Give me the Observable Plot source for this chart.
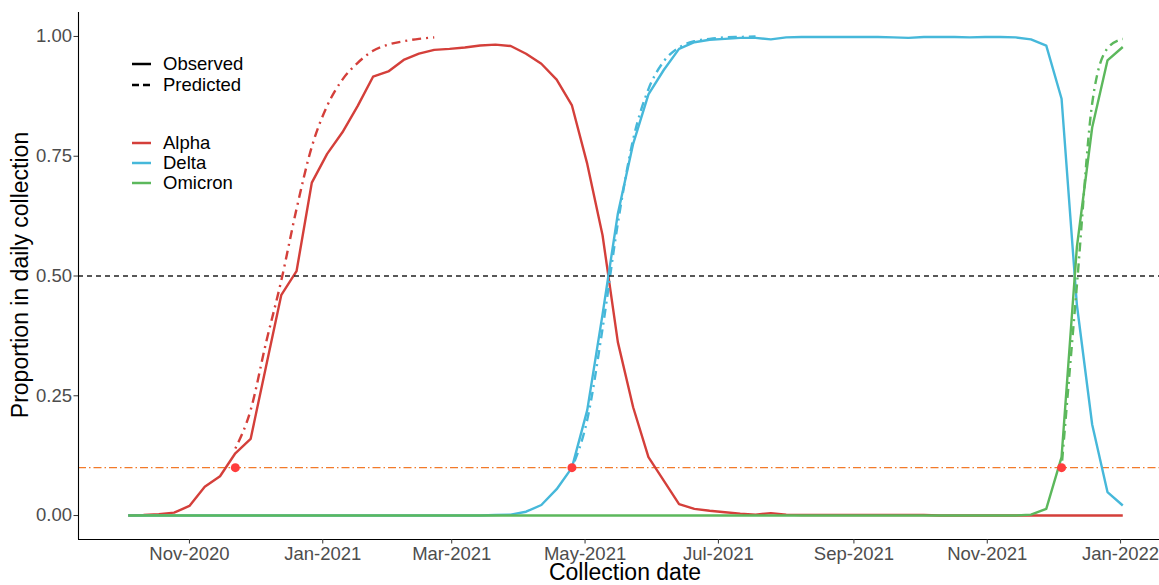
<!DOCTYPE html>
<html>
<head>
<meta charset="utf-8">
<script src="https://cdn.jsdelivr.net/npm/d3@7"></script>
<script src="https://cdn.jsdelivr.net/npm/@observablehq/plot@0.6"></script>
<style>
  body { margin: 0; background: #fff; }
  #chart { position: relative; width: 1159px; height: 585px; overflow: hidden; }
</style>
</head>
<body>
<div id="chart"></div>
<script>
// ---------- data ----------
const firstWeek = "2020-10-04";   // weekly collection dates (Sundays)
const lastWeek = "2022-01-02";
const variants = ["Alpha", "Delta", "Omicron"];
const variantColors = ["#D43F3A", "#46B8DA", "#5CB85C"];

const alphaObserved = [0, 0.001, 0.003, 0.006, 0.02, 0.06, 0.082, 0.13, 0.16, 0.31,
  0.46, 0.51, 0.695, 0.755, 0.80, 0.855, 0.916, 0.927, 0.951, 0.964,
  0.972, 0.974, 0.977, 0.981, 0.983, 0.980, 0.964, 0.943, 0.910, 0.856,
  0.734, 0.585, 0.362, 0.226, 0.122, 0.073, 0.024, 0.014, 0.010, 0.007,
  0.004, 0.002, 0.005, 0.002, 0.001, 0.001, 0.001, 0.001, 0.001, 0.001,
  0.001, 0.001, 0.001, 0, 0, 0, 0, 0, 0, 0,
  0, 0, 0, 0, 0, 0];
const deltaObserved = [0, 0, 0, 0, 0, 0, 0, 0, 0, 0,
  0, 0, 0, 0, 0, 0, 0, 0, 0, 0,
  0, 0, 0, 0, 0.001, 0.002, 0.008, 0.022, 0.055, 0.10,
  0.22, 0.42, 0.63, 0.776, 0.879, 0.93, 0.974, 0.988, 0.993, 0.995,
  0.997, 0.997, 0.994, 0.998, 0.999, 0.999, 0.999, 0.999, 0.999, 0.999,
  0.998, 0.997, 0.999, 0.999, 0.999, 0.998, 0.999, 0.999, 0.998, 0.994,
  0.981, 0.87, 0.44, 0.19, 0.049, 0.021];
const omicronObserved = [0, 0, 0, 0, 0, 0, 0, 0, 0, 0,
  0, 0, 0, 0, 0, 0, 0, 0, 0, 0,
  0, 0, 0, 0, 0, 0, 0, 0, 0, 0,
  0, 0, 0, 0, 0, 0, 0, 0, 0, 0,
  0, 0, 0, 0, 0, 0, 0, 0, 0, 0,
  0, 0, 0, 0, 0, 0, 0, 0, 0, 0.002,
  0.014, 0.122, 0.56, 0.81, 0.95, 0.978];

// predicted series: first week and weekly values
const alphaPredictedStart = "2020-11-22";
const alphaPredicted = [0.14, 0.22, 0.36, 0.49, 0.64, 0.77, 0.855, 0.91, 0.945, 0.97, 0.983, 0.99, 0.995, 0.998];
const deltaPredictedStart = "2021-04-25";
const deltaPredicted = [0.10, 0.20, 0.39, 0.61, 0.785, 0.89, 0.948, 0.977, 0.99, 0.995, 0.998, 0.999, 1.0];
const omicronPredictedStart = "2021-12-05";
const omicronPredicted = [0.10, 0.48, 0.86, 0.975, 0.995];

// dates where each variant reaches 10%
const crossingDates = ["2020-11-22", "2021-04-25", "2021-12-05"];
const crossingLevel = 0.1;
const halfLevel = 0.5;

const xTickLabels = ["2020-11-01", "2021-01-01", "2021-03-01", "2021-05-01", "2021-07-01", "2021-09-01", "2021-11-01", "2022-01-01"];
const yTickValues = [0, 0.25, 0.5, 0.75, 1];

// ---------- build tables ----------
const weeks = d3.utcWeek.range(new Date(firstWeek), d3.utcDay.offset(new Date(lastWeek), 1));
const observedSeries = [alphaObserved, deltaObserved, omicronObserved];
const observedRows = [];
variants.forEach((v, k) => observedSeries[k].forEach((y, i) => observedRows.push({date: weeks[i], value: y, variant: v})));

const predictedSpec = [[alphaPredictedStart, alphaPredicted], [deltaPredictedStart, deltaPredicted], [omicronPredictedStart, omicronPredicted]];
const predictedRows = [];
variants.forEach((v, k) => {
  const [start, vals] = predictedSpec[k];
  const s = new Date(start);
  vals.forEach((y, i) => predictedRows.push({date: d3.utcWeek.offset(s, i), value: y, variant: v}));
});
const crossingRows = crossingDates.map(d => ({date: new Date(d), value: crossingLevel}));

const xMin = weeks[0], xMax = weeks[weeks.length - 1];
const pad = (xMax - xMin) * 0.05;
const xDomain = [new Date(+xMin - pad), new Date(+xMax + pad)];
const yDomain = [-0.05, 1.05];

const font = "'Liberation Sans', Arial, Helvetica, sans-serif";

const plot = Plot.plot({
  width: 1159,
  height: 585,
  marginLeft: 78,
  marginRight: -13,
  marginTop: 12,
  marginBottom: 46,
  style: {fontFamily: font, fontSize: "18.5px", background: "#fff", overflow: "hidden"},
  x: {type: "utc", domain: xDomain},
  y: {domain: yDomain},
  color: {domain: variants, range: variantColors},
  marks: [
    Plot.ruleY([crossingLevel], {stroke: "#F27A2A", strokeWidth: 1.4, strokeDasharray: "8,3,1.5,3"}),
    Plot.line(observedRows, {x: "date", y: "value", z: "variant", stroke: "variant", strokeWidth: 2.4, strokeLinecap: "butt"}),
    Plot.line(predictedRows, {x: "date", y: "value", z: "variant", stroke: "variant", strokeWidth: 2.4, strokeLinecap: "butt", strokeDasharray: "2,5,9,5", curve: "monotone-x"}),
    Plot.ruleY([halfLevel], {stroke: "#222", strokeWidth: 1.3, strokeDasharray: "5,4"}),
    Plot.dot(crossingRows, {x: "date", y: "value", r: 4.5, fill: "#FF3D3D", stroke: "none"}),
    Plot.ruleY([yDomain[0]], {stroke: "#000", strokeWidth: 1.1}),
    Plot.ruleX([xDomain[0]], {stroke: "#000", strokeWidth: 1.1}),
    Plot.axisX(xTickLabels.map(d => new Date(d)), {tickFormat: d3.utcFormat("%b-%Y"), tickSize: 4.5, tickPadding: 2.4, fontSize: 18.5, fill: "#4d4d4d", stroke: "#333", label: null}),
    Plot.axisY(yTickValues, {tickFormat: d3.format(".2f"), tickSize: 4.5, tickPadding: 2, fontSize: 18.5, fill: "#4d4d4d", stroke: "#333", label: null})
  ]
});

document.getElementById("chart").appendChild(plot);

// ---------- titles and legend ----------
const svg = d3.select(plot);
svg.append("text").attr("x", 625).attr("y", 580).attr("text-anchor", "middle")
  .attr("font-family", font).attr("font-size", 23).attr("fill", "#000").text("Collection date");
svg.append("text").attr("transform", "translate(28,275) rotate(-90)").attr("text-anchor", "middle")
  .attr("font-family", font).attr("font-size", 23).attr("fill", "#000").text("Proportion in daily collection");

const legend = svg.append("g").attr("font-family", font).attr("font-size", 18.5).attr("text-anchor", "start");
const lineTypes = [["Observed", null], ["Predicted", "7,4"]];
lineTypes.forEach(([name, dash], i) => {
  const y = 64 + i * 21;
  legend.append("line").attr("x1", 132).attr("x2", 151).attr("y1", y).attr("y2", y)
    .attr("stroke", "#000").attr("stroke-width", 2.5).attr("stroke-dasharray", dash);
  legend.append("text").attr("x", 163).attr("y", y).attr("dy", "0.35em").attr("text-anchor", "start").attr("fill", "#000").text(name);
});
variants.forEach((name, i) => {
  const y = 143 + i * 20;
  legend.append("line").attr("x1", 132).attr("x2", 151).attr("y1", y).attr("y2", y)
    .attr("stroke", variantColors[i]).attr("stroke-width", 2.5);
  legend.append("text").attr("x", 163).attr("y", y).attr("dy", "0.35em").attr("text-anchor", "start").attr("fill", "#000").text(name);
});
</script>
</body>
</html>
